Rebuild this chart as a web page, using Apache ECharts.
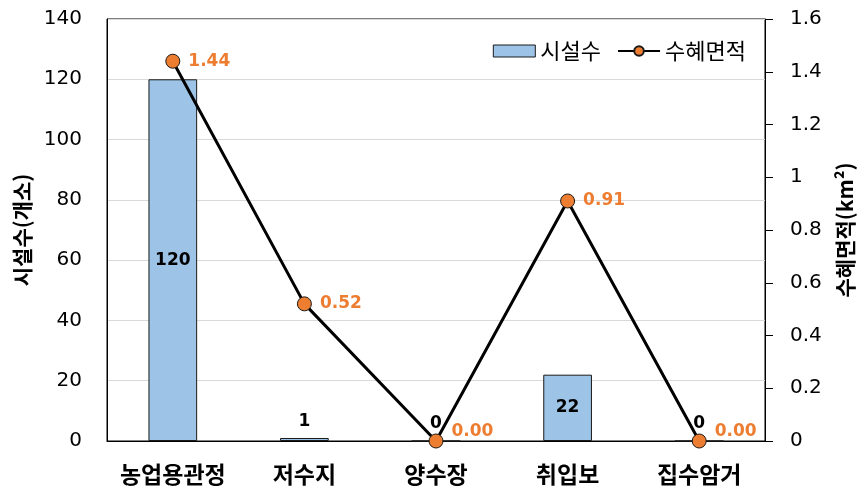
<!DOCTYPE html>
<html>
<head>
<meta charset="utf-8">
<script src="https://cdn.jsdelivr.net/npm/echarts@6/dist/echarts.min.js"></script>
<style>
  html, body { margin: 0; padding: 0; background: #fff; }
  #chart { width: 861px; height: 492px; }
</style>
</head>
<body>
<div id="chart"></div>
<script>
// Facility types
const categories = ['농업용관정', '저수지', '양수장', '취입보', '집수암거'];
// Number of facilities (left axis)
const facilityCounts = [120, 1, 0, 22, 0];
// Benefited area in km² (right axis)
const benefitArea = [1.44, 0.52, 0.00, 0.91, 0.00];
// Where each count label sits relative to its bar
const countLabelPos = ['inside', 'top', 'top', 'inside', 'top'];

const KFONT = '"Noto Sans CJK KR", "Noto Sans", sans-serif';
const NFONT = '"DejaVu Sans", sans-serif';
const ORANGE = '#ED7D31';

const chart = echarts.init(document.getElementById('chart'), null, { renderer: 'canvas' });

chart.setOption({
  animation: false,
  textStyle: { fontFamily: KFONT },
  grid: {
    left: 107, right: 96, top: 19, bottom: 51,
    outerBoundsMode: 'none',
    containLabel: false,
    show: true, borderColor: '#000', borderWidth: 1, backgroundColor: 'transparent'
  },
  legend: {
    right: 110, top: 35,
    itemGap: 16,
    textStyle: { fontFamily: KFONT, fontSize: 22, color: '#000' },
    data: [
      { name: '시설수', icon: 'rect', itemStyle: { color: '#9DC3E6', borderColor: '#1a1a1a', borderWidth: 1 } },
      { name: '수혜면적' }
    ],
    itemWidth: 42, itemHeight: 12
  },
  xAxis: {
    type: 'category',
    data: categories,
    axisLine: { lineStyle: { color: '#000', width: 1 } },
    axisTick: { show: false },
    axisLabel: { interval: 0, color: '#000', fontSize: 23, fontWeight: 'bold', margin: 22, fontFamily: KFONT }
  },
  yAxis: [
    {
      type: 'value', min: 0, max: 140, interval: 20,
      name: '시설수(개소)', nameLocation: 'middle', nameRotate: 90, nameGap: 74,
      nameTextStyle: { fontSize: 21, fontWeight: 'bold', color: '#000', fontFamily: KFONT },
      axisLine: { show: true, lineStyle: { color: '#000' } },
      axisTick: { show: false },
      axisLabel: { color: '#000', fontSize: 20, margin: 25, fontFamily: NFONT },
      splitLine: { lineStyle: { color: '#d9d9d9', width: 1 } }
    },
    {
      type: 'value', min: 0, max: 1.6, interval: 0.2,
      name: '수혜면적(km²)', nameLocation: 'middle', nameRotate: 90, nameGap: 70,
      nameTextStyle: { fontSize: 21, fontWeight: 'bold', color: '#000', fontFamily: KFONT },
      axisLine: { show: true, lineStyle: { color: '#000' } },
      axisTick: { show: true, inside: false, length: 8, lineStyle: { color: '#000' } },
      axisLabel: { color: '#000', fontSize: 20, margin: 25, fontFamily: NFONT },
      splitLine: { show: false }
    }
  ],
  series: [
    {
      name: '시설수',
      type: 'bar',
      yAxisIndex: 0,
      barWidth: '37%',
      itemStyle: { color: '#9DC3E6', borderColor: '#1a1a1a', borderWidth: 1 },
      data: facilityCounts.map((v, i) => ({
        value: v,
        label: { position: countLabelPos[i] }
      })),
      label: {
        show: true, color: '#000', fontSize: 17, fontWeight: 'bold', fontFamily: NFONT, distance: 8
      },
      z: 2
    },
    {
      name: '수혜면적',
      type: 'line',
      yAxisIndex: 1,
      symbol: 'circle',
      symbolSize: 14,
      lineStyle: { color: '#000', width: 3 },
      itemStyle: { color: ORANGE, borderColor: '#1a1a1a', borderWidth: 1 },
      data: benefitArea.map(v => ({
        value: v,
        label: { offset: v === 0 ? [0, -9] : [0, 0] }
      })),
      label: {
        show: true, position: 'right', distance: 8,
        color: ORANGE, fontSize: 17, fontWeight: 'bold', fontFamily: NFONT,
        formatter: p => p.value.toFixed(2)
      },
      z: 3
    }
  ]
});
</script>
</body>
</html>
